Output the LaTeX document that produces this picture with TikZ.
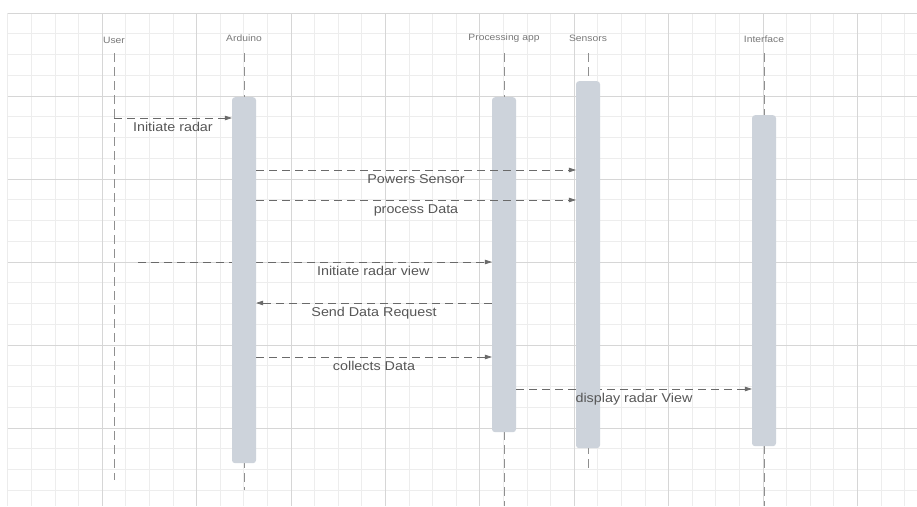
\documentclass[tikz,border=0pt]{standalone}
\usepackage{fontspec}
\setmainfont[FakeStretch=1.12]{Liberation Sans}
\usetikzlibrary{arrows.meta,positioning,calc}
\definecolor{gridminor}{HTML}{EDEDED}
\definecolor{gridmajor}{HTML}{D6D6D6}
\definecolor{barfill}{HTML}{CDD3DB}
\definecolor{lineclr}{HTML}{6A6A6A}
\definecolor{textclr}{HTML}{575757}

\begin{document}
\begin{tikzpicture}[
    x=1pt, y=-1pt,
    actor/.style={font=\fontsize{9.2}{11}\selectfont, text=textclr!80, inner sep=1pt},
    bar/.style={rounded corners=3pt, fill=barfill, draw=none, minimum width=24pt, anchor=north, inner sep=0pt},
    life/.style={draw=lineclr!75, dash pattern=on 9pt off 5pt, line width=0.6pt},
    msg/.style={draw=lineclr, dash pattern=on 8pt off 5pt, line width=0.6pt, -{Triangle[length=7pt,width=4.5pt]}},
    lbl/.style={font=\fontsize{12.8}{14}\selectfont, text=textclr, text height=9pt, text depth=2.5pt, inner sep=1pt, below=3.5pt}
  ]
    \useasboundingbox[fill=white] (0,0) rectangle (917,506);
    \begin{scope}
      \clip (7.7,13) rectangle (917,506);
      \foreach \i in {0,...,38} \draw[gridminor, line width=0.6pt] (7.7+\i*23.6,13) -- (7.7+\i*23.6,506);
      \foreach \j in {0,...,24} \draw[gridminor, line width=0.6pt] (7.7,13+\j*20.75) -- (917,13+\j*20.75);
      \foreach \i in {0,4,...,36} \draw[gridmajor, line width=0.6pt] (7.7+\i*23.6,13) -- (7.7+\i*23.6,506);
      \foreach \j in {0,4,...,24} \draw[gridmajor, line width=0.6pt] (7.7,13+\j*20.75) -- (917,13+\j*20.75);
    \end{scope}

    \node[actor] (user) at (114,40) {User};
    \node[actor] (ard) at (244,38) {Arduino};
    \node[actor] (proc) at (504,38) {Processing app};
    \node[actor] (sen) at (588,38) {Sensors};
    \node[actor] (intf) at (764,39) {Interface};

    \coordinate (userend) at (114,480);
    \coordinate (ardend) at (244,490);
    \coordinate (procend) at (504,506);
    \coordinate (senend) at (588,472);
    \coordinate (intfend) at (764,506);
    \draw[life] (user.south |- 0,53) -- (userend);
    \draw[life] (ard.south |- 0,53) -- (ardend);
    \draw[life] (proc.south |- 0,53) -- (procend);
    \draw[life] (sen.south |- 0,53) -- (senend);
    \draw[life] (intf.south |- 0,53) -- (intfend);

    \coordinate (m1) at (0,118);
    \coordinate (m2) at (0,170);
    \coordinate (m3) at (0,200);
    \coordinate (m4) at (0,262);
    \coordinate (m5) at (0,303);
    \coordinate (m6) at (0,357);
    \coordinate (m7) at (0,389);
    \coordinate (viewstart) at (138,262);

    \node[bar, minimum height=335pt] (procbar) at (504,97) {};
    \node[bar, minimum height=331pt] (intfbar) at (764,115) {};

    \draw[msg] (viewstart) -- coordinate[pos=0.665] (m4lbl) (procbar.west |- m4);
    \draw[msg] (procbar.east |- m7) -- coordinate[pos=0.5] (m7lbl) (intfbar.west |- m7);

    \node[bar, minimum height=366pt] (ardbar) at (244,97) {};
    \node[bar, minimum height=367pt] (senbar) at (588,81) {};

    \draw[msg] (userend |- m1) -- node[lbl] {Initiate radar} (ardbar.west |- m1);
    \draw[msg] (ardbar.east |- m2) -- node[lbl] {Powers Sensor} (senbar.west |- m2);
    \draw[msg] (ardbar.east |- m3) -- node[lbl] {process Data} (senbar.west |- m3);
    \node[lbl] at (m4lbl) {Initiate radar view};
    \draw[msg] (procbar.west |- m5) -- node[lbl] {Send Data Request} (ardbar.east |- m5);
    \draw[msg] (ardbar.east |- m6) -- node[lbl] {collects Data} (procbar.west |- m6);
    \node[lbl] at (m7lbl) {display radar View};
  \end{tikzpicture}
\end{document}
